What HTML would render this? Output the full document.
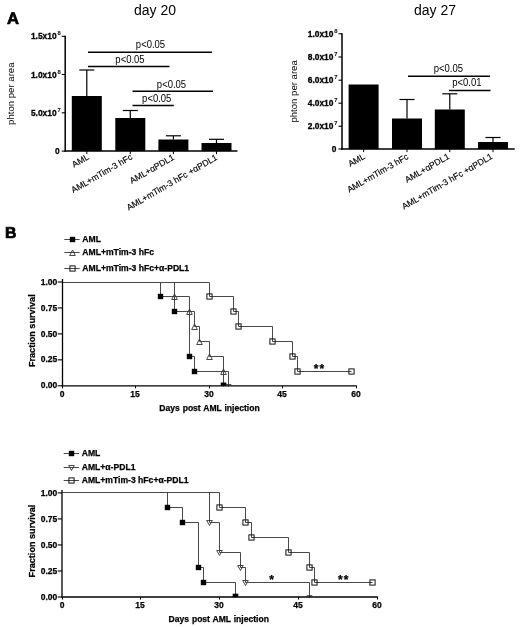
<!DOCTYPE html>
<html><head><meta charset="utf-8"><title>Figure</title>
<style>
html,body{margin:0;padding:0;background:#fff;}
svg{display:block;font-family:'Liberation Sans', sans-serif;}
</style></head>
<body>
<svg width="520" height="627" viewBox="0 0 520 627" font-family="'Liberation Sans', sans-serif" fill="#000">
<rect width="520" height="627" fill="#fff"/>
<text x="6.90" y="24.30" font-size="16.6" font-weight="bold" stroke="#000" stroke-width="0.7" text-anchor="start" text-rendering="geometricPrecision">A</text>
<text x="5.10" y="238.30" font-size="15.8" font-weight="bold" stroke="#000" stroke-width="0.7" text-anchor="start" text-rendering="geometricPrecision">B</text>
<text x="134.00" y="15.00" font-size="14" text-anchor="start">day 20</text>
<text x="414.00" y="15.00" font-size="14" text-anchor="start">day 27</text>
<line x1="65.20" y1="35.70" x2="65.20" y2="151.80" stroke="#000" stroke-width="1.5"/>
<line x1="64.50" y1="151.10" x2="237.50" y2="151.10" stroke="#000" stroke-width="1.5"/>
<line x1="61.70" y1="36.30" x2="65.20" y2="36.30" stroke="#000" stroke-width="1.1"/>
<text x="60.70" y="39.30" font-size="8.4" font-weight="bold" stroke="#000" stroke-width="0.3" text-anchor="end">1.5x10<tspan font-size="5.8" dy="-4" dx="0.9" fill="#222" stroke-width="0.1">8</tspan></text>
<line x1="61.70" y1="74.50" x2="65.20" y2="74.50" stroke="#000" stroke-width="1.1"/>
<text x="60.70" y="77.50" font-size="8.4" font-weight="bold" stroke="#000" stroke-width="0.3" text-anchor="end">1.0x10<tspan font-size="5.8" dy="-4" dx="0.9" fill="#222" stroke-width="0.1">8</tspan></text>
<line x1="61.70" y1="112.80" x2="65.20" y2="112.80" stroke="#000" stroke-width="1.1"/>
<text x="60.70" y="115.80" font-size="8.4" font-weight="bold" stroke="#000" stroke-width="0.3" text-anchor="end">5.0x10<tspan font-size="5.8" dy="-4" dx="0.9" fill="#222" stroke-width="0.1">7</tspan></text>
<line x1="61.70" y1="151.10" x2="65.20" y2="151.10" stroke="#000" stroke-width="1.1"/>
<text x="59.70" y="154.10" font-size="8.4" font-weight="bold" stroke="#000" stroke-width="0.25" text-anchor="end">0</text>
<rect x="71.80" y="96.00" width="30.00" height="55.10" fill="#000"/>
<line x1="86.80" y1="70.00" x2="86.80" y2="96.00" stroke="#000" stroke-width="1.2"/>
<line x1="79.30" y1="70.00" x2="94.30" y2="70.00" stroke="#000" stroke-width="1.2"/>
<line x1="86.80" y1="151.10" x2="86.80" y2="154.10" stroke="#000" stroke-width="1.0"/>
<text x="89.60" y="158.70" font-size="8.7" text-anchor="end" transform="rotate(-30 89.60 158.70)" stroke="#000" stroke-width="0.15">AML</text>
<rect x="115.30" y="118.00" width="30.00" height="33.10" fill="#000"/>
<line x1="130.30" y1="110.50" x2="130.30" y2="118.00" stroke="#000" stroke-width="1.2"/>
<line x1="122.80" y1="110.50" x2="137.80" y2="110.50" stroke="#000" stroke-width="1.2"/>
<line x1="130.30" y1="151.10" x2="130.30" y2="154.10" stroke="#000" stroke-width="1.0"/>
<text x="133.10" y="158.70" font-size="8.7" text-anchor="end" transform="rotate(-30 133.10 158.70)" stroke="#000" stroke-width="0.15">AML+mTim-3 hFc</text>
<rect x="158.40" y="139.50" width="30.00" height="11.60" fill="#000"/>
<line x1="173.40" y1="135.80" x2="173.40" y2="139.50" stroke="#000" stroke-width="1.2"/>
<line x1="165.90" y1="135.80" x2="180.90" y2="135.80" stroke="#000" stroke-width="1.2"/>
<line x1="173.40" y1="151.10" x2="173.40" y2="154.10" stroke="#000" stroke-width="1.0"/>
<text x="174.90" y="159.10" font-size="8.7" text-anchor="end" transform="rotate(-30 174.90 159.10)" stroke="#000" stroke-width="0.15">AML+αPDL1</text>
<rect x="201.50" y="143.00" width="30.00" height="8.10" fill="#000"/>
<line x1="216.50" y1="139.30" x2="216.50" y2="143.00" stroke="#000" stroke-width="1.2"/>
<line x1="209.00" y1="139.30" x2="224.00" y2="139.30" stroke="#000" stroke-width="1.2"/>
<line x1="216.50" y1="151.10" x2="216.50" y2="154.10" stroke="#000" stroke-width="1.0"/>
<text x="218.00" y="159.10" font-size="8.7" text-anchor="end" transform="rotate(-30 218.00 159.10)" stroke="#000" stroke-width="0.15">AML+mTim-3 hFc +αPDL1</text>
<text x="13.80" y="93.70" font-size="9.6" text-anchor="middle" transform="rotate(-90 13.80 93.70)">phton per area</text>
<line x1="88.00" y1="52.30" x2="212.00" y2="52.30" stroke="#000" stroke-width="1.4"/>
<text transform="translate(150.50 48.00) scale(0.95 1)" font-size="10" text-anchor="middle">p&lt;0.05</text>
<line x1="88.00" y1="66.50" x2="169.50" y2="66.50" stroke="#000" stroke-width="1.4"/>
<text transform="translate(130.00 62.50) scale(0.95 1)" font-size="10" text-anchor="middle">p&lt;0.05</text>
<line x1="132.50" y1="91.30" x2="213.00" y2="91.30" stroke="#000" stroke-width="1.4"/>
<text transform="translate(171.50 88.00) scale(0.95 1)" font-size="10" text-anchor="middle">p&lt;0.05</text>
<line x1="132.50" y1="105.50" x2="173.80" y2="105.50" stroke="#000" stroke-width="1.4"/>
<text transform="translate(156.75 102.00) scale(0.95 1)" font-size="10" text-anchor="middle">p&lt;0.05</text>
<line x1="342.00" y1="33.15" x2="342.00" y2="149.80" stroke="#000" stroke-width="1.5"/>
<line x1="341.30" y1="149.10" x2="514.70" y2="149.10" stroke="#000" stroke-width="1.5"/>
<line x1="338.50" y1="33.75" x2="342.00" y2="33.75" stroke="#000" stroke-width="1.1"/>
<text x="337.50" y="36.75" font-size="8.4" font-weight="bold" stroke="#000" stroke-width="0.3" text-anchor="end">1.0x10<tspan font-size="5.8" dy="-4" dx="0.9" fill="#222" stroke-width="0.1">8</tspan></text>
<line x1="338.50" y1="57.00" x2="342.00" y2="57.00" stroke="#000" stroke-width="1.1"/>
<text x="337.50" y="60.00" font-size="8.4" font-weight="bold" stroke="#000" stroke-width="0.3" text-anchor="end">8.0x10<tspan font-size="5.8" dy="-4" dx="0.9" fill="#222" stroke-width="0.1">7</tspan></text>
<line x1="338.50" y1="80.20" x2="342.00" y2="80.20" stroke="#000" stroke-width="1.1"/>
<text x="337.50" y="83.20" font-size="8.4" font-weight="bold" stroke="#000" stroke-width="0.3" text-anchor="end">6.0x10<tspan font-size="5.8" dy="-4" dx="0.9" fill="#222" stroke-width="0.1">7</tspan></text>
<line x1="338.50" y1="103.20" x2="342.00" y2="103.20" stroke="#000" stroke-width="1.1"/>
<text x="337.50" y="106.20" font-size="8.4" font-weight="bold" stroke="#000" stroke-width="0.3" text-anchor="end">4.0x10<tspan font-size="5.8" dy="-4" dx="0.9" fill="#222" stroke-width="0.1">7</tspan></text>
<line x1="338.50" y1="126.20" x2="342.00" y2="126.20" stroke="#000" stroke-width="1.1"/>
<text x="337.50" y="129.20" font-size="8.4" font-weight="bold" stroke="#000" stroke-width="0.3" text-anchor="end">2.0x10<tspan font-size="5.8" dy="-4" dx="0.9" fill="#222" stroke-width="0.1">7</tspan></text>
<line x1="338.50" y1="149.00" x2="342.00" y2="149.00" stroke="#000" stroke-width="1.1"/>
<text x="336.50" y="152.00" font-size="8.4" font-weight="bold" stroke="#000" stroke-width="0.25" text-anchor="end">0</text>
<rect x="348.60" y="84.50" width="30.00" height="64.60" fill="#000"/>
<line x1="363.60" y1="149.10" x2="363.60" y2="152.10" stroke="#000" stroke-width="1.0"/>
<text x="365.80" y="158.10" font-size="8.7" text-anchor="end" transform="rotate(-30 365.80 158.10)" stroke="#000" stroke-width="0.15">AML</text>
<rect x="392.00" y="118.50" width="30.00" height="30.60" fill="#000"/>
<line x1="407.00" y1="99.50" x2="407.00" y2="118.50" stroke="#000" stroke-width="1.2"/>
<line x1="399.50" y1="99.50" x2="414.50" y2="99.50" stroke="#000" stroke-width="1.2"/>
<line x1="407.00" y1="149.10" x2="407.00" y2="152.10" stroke="#000" stroke-width="1.0"/>
<text x="409.00" y="158.40" font-size="8.7" text-anchor="end" transform="rotate(-30 409.00 158.40)" stroke="#000" stroke-width="0.15">AML+mTim-3 hFc</text>
<rect x="434.80" y="109.50" width="30.00" height="39.60" fill="#000"/>
<line x1="449.80" y1="93.80" x2="449.80" y2="109.50" stroke="#000" stroke-width="1.2"/>
<line x1="442.30" y1="93.80" x2="457.30" y2="93.80" stroke="#000" stroke-width="1.2"/>
<line x1="449.80" y1="149.10" x2="449.80" y2="152.10" stroke="#000" stroke-width="1.0"/>
<text x="450.10" y="158.10" font-size="8.7" text-anchor="end" transform="rotate(-30 450.10 158.10)" stroke="#000" stroke-width="0.15">AML+αPDL1</text>
<rect x="478.00" y="142.00" width="30.00" height="7.10" fill="#000"/>
<line x1="493.00" y1="137.50" x2="493.00" y2="142.00" stroke="#000" stroke-width="1.2"/>
<line x1="485.50" y1="137.50" x2="500.50" y2="137.50" stroke="#000" stroke-width="1.2"/>
<line x1="493.00" y1="149.10" x2="493.00" y2="152.10" stroke="#000" stroke-width="1.0"/>
<text x="493.30" y="158.10" font-size="8.7" text-anchor="end" transform="rotate(-30 493.30 158.10)" stroke="#000" stroke-width="0.15">AML+mTim-3 hFc +αPDL1</text>
<text x="297.00" y="91.42" font-size="9.6" text-anchor="middle" transform="rotate(-90 297.00 91.42)">phton per area</text>
<line x1="408.00" y1="76.30" x2="490.00" y2="76.30" stroke="#000" stroke-width="1.4"/>
<text transform="translate(448.38 72.00) scale(0.95 1)" font-size="10" text-anchor="middle">p&lt;0.05</text>
<line x1="449.00" y1="90.50" x2="490.50" y2="90.50" stroke="#000" stroke-width="1.4"/>
<text transform="translate(466.88 85.80) scale(0.95 1)" font-size="10" text-anchor="middle">p&lt;0.01</text>
<line x1="64.30" y1="239.50" x2="79.60" y2="239.50" stroke="#333" stroke-width="0.9"/>
<rect x="69.80" y="236.80" width="5.4" height="5.4" fill="#000"/>
<text x="82.30" y="242.30" font-size="8.6" font-weight="bold" stroke="#000" stroke-width="0.25" text-anchor="start">AML</text>
<line x1="64.30" y1="252.50" x2="79.60" y2="252.50" stroke="#333" stroke-width="0.9"/>
<path d="M69.70 255.50 L75.30 255.50 L72.50 250.00 Z" fill="none" stroke="#333" stroke-width="0.9"/>
<text x="82.30" y="255.10" font-size="8.6" font-weight="bold" stroke="#000" stroke-width="0.25" text-anchor="start">AML+mTim-3 hFc</text>
<line x1="64.30" y1="268.50" x2="79.60" y2="268.50" stroke="#333" stroke-width="0.9"/>
<rect x="69.90" y="265.90" width="5.2" height="5.2" fill="none" stroke="#111" stroke-width="1"/>
<text x="82.30" y="270.50" font-size="8.6" font-weight="bold" stroke="#000" stroke-width="0.25" text-anchor="start">AML+mTim-3 hFc+α-PDL1</text>
<polyline fill="none" stroke="#333" stroke-width="0.9" points="160.50,282.50 160.50,296.50 174.50,296.50 174.50,311.50 189.50,311.50 189.50,356.50 194.50,356.50 194.50,371.50 223.50,371.50 223.50,386.50"/>
<rect x="157.80" y="293.80" width="5.4" height="5.4" fill="#000"/>
<rect x="171.80" y="308.80" width="5.4" height="5.4" fill="#000"/>
<rect x="186.80" y="353.80" width="5.4" height="5.4" fill="#000"/>
<rect x="191.80" y="368.80" width="5.4" height="5.4" fill="#000"/>
<rect x="220.70" y="382.50" width="5.6" height="3.3" fill="#000"/>
<polyline fill="none" stroke="#333" stroke-width="0.9" points="174.50,282.50 174.50,296.50 189.50,296.50 189.50,311.50 194.50,311.50 194.50,326.50 199.50,326.50 199.50,341.50 209.50,341.50 209.50,356.50 223.50,356.50 223.50,371.50 228.50,371.50 228.50,386.50"/>
<path d="M171.70 299.50 L177.30 299.50 L174.50 294.00 Z" fill="none" stroke="#333" stroke-width="0.9"/>
<path d="M186.70 314.50 L192.30 314.50 L189.50 309.00 Z" fill="none" stroke="#333" stroke-width="0.9"/>
<path d="M191.70 329.50 L197.30 329.50 L194.50 324.00 Z" fill="none" stroke="#333" stroke-width="0.9"/>
<path d="M196.70 344.50 L202.30 344.50 L199.50 339.00 Z" fill="none" stroke="#333" stroke-width="0.9"/>
<path d="M206.70 359.50 L212.30 359.50 L209.50 354.00 Z" fill="none" stroke="#333" stroke-width="0.9"/>
<path d="M220.70 374.50 L226.30 374.50 L223.50 369.00 Z" fill="none" stroke="#333" stroke-width="0.9"/>
<line x1="225.70" y1="384.50" x2="231.30" y2="384.50" stroke="#333" stroke-width="0.9"/>
<polyline fill="none" stroke="#333" stroke-width="0.9" points="62.50,282.50 209.50,282.50 209.50,296.50 233.50,296.50 233.50,311.50 238.50,311.50 238.50,326.50 272.50,326.50 272.50,341.50 292.50,341.50 292.50,356.50 297.50,356.50 297.50,371.50 351.50,371.50"/>
<rect x="206.90" y="293.90" width="5.2" height="5.2" fill="none" stroke="#111" stroke-width="1"/>
<rect x="230.90" y="308.90" width="5.2" height="5.2" fill="none" stroke="#111" stroke-width="1"/>
<rect x="235.90" y="323.90" width="5.2" height="5.2" fill="none" stroke="#111" stroke-width="1"/>
<rect x="269.90" y="338.90" width="5.2" height="5.2" fill="none" stroke="#111" stroke-width="1"/>
<rect x="289.90" y="353.90" width="5.2" height="5.2" fill="none" stroke="#111" stroke-width="1"/>
<rect x="294.90" y="368.90" width="5.2" height="5.2" fill="none" stroke="#111" stroke-width="1"/>
<rect x="348.90" y="368.90" width="5.2" height="5.2" fill="none" stroke="#111" stroke-width="1"/>
<line x1="62.50" y1="279.00" x2="62.50" y2="386.50" stroke="#000" stroke-width="1.3"/>
<line x1="61.80" y1="385.80" x2="356.80" y2="385.80" stroke="#000" stroke-width="1.3"/>
<line x1="57.70" y1="282.00" x2="62.00" y2="282.00" stroke="#000" stroke-width="1.1"/>
<text x="57.30" y="284.60" font-size="8.5" font-weight="bold" stroke="#000" stroke-width="0.25" text-anchor="end">1.00</text>
<line x1="57.70" y1="307.95" x2="62.00" y2="307.95" stroke="#000" stroke-width="1.1"/>
<text x="57.30" y="310.55" font-size="8.5" font-weight="bold" stroke="#000" stroke-width="0.25" text-anchor="end">0.75</text>
<line x1="57.70" y1="333.90" x2="62.00" y2="333.90" stroke="#000" stroke-width="1.1"/>
<text x="57.30" y="336.50" font-size="8.5" font-weight="bold" stroke="#000" stroke-width="0.25" text-anchor="end">0.50</text>
<line x1="57.70" y1="359.85" x2="62.00" y2="359.85" stroke="#000" stroke-width="1.1"/>
<text x="57.30" y="362.45" font-size="8.5" font-weight="bold" stroke="#000" stroke-width="0.25" text-anchor="end">0.25</text>
<line x1="57.70" y1="385.80" x2="62.00" y2="385.80" stroke="#000" stroke-width="1.1"/>
<text x="57.30" y="388.40" font-size="8.5" font-weight="bold" stroke="#000" stroke-width="0.25" text-anchor="end">0.00</text>
<line x1="62.50" y1="385.80" x2="62.50" y2="388.40" stroke="#000" stroke-width="1.0"/>
<text x="62.00" y="397.20" font-size="8.5" font-weight="bold" stroke="#000" stroke-width="0.25" text-anchor="middle">0</text>
<line x1="135.50" y1="385.80" x2="135.50" y2="388.40" stroke="#000" stroke-width="1.0"/>
<text x="135.00" y="397.20" font-size="8.5" font-weight="bold" stroke="#000" stroke-width="0.25" text-anchor="middle">15</text>
<line x1="209.50" y1="385.80" x2="209.50" y2="388.40" stroke="#000" stroke-width="1.0"/>
<text x="209.00" y="397.20" font-size="8.5" font-weight="bold" stroke="#000" stroke-width="0.25" text-anchor="middle">30</text>
<line x1="282.50" y1="385.80" x2="282.50" y2="388.40" stroke="#000" stroke-width="1.0"/>
<text x="282.00" y="397.20" font-size="8.5" font-weight="bold" stroke="#000" stroke-width="0.25" text-anchor="middle">45</text>
<line x1="356.50" y1="385.80" x2="356.50" y2="388.40" stroke="#000" stroke-width="1.0"/>
<text x="356.00" y="397.20" font-size="8.5" font-weight="bold" stroke="#000" stroke-width="0.25" text-anchor="middle">60</text>
<text x="209.50" y="411.00" font-size="8.55" font-weight="bold" stroke="#000" stroke-width="0.25" text-anchor="middle" word-spacing="0.5">Days post AML injection</text>
<text x="34.60" y="330.70" font-size="9.1" font-weight="bold" stroke="#000" stroke-width="0.25" text-anchor="middle" transform="rotate(-90 34.60 330.70)">Fraction survival</text>
<text x="319.50" y="373.40" font-size="12" font-weight="bold" stroke="#000" stroke-width="0.25" text-anchor="middle" letter-spacing="1">**</text>
<line x1="63.70" y1="453.50" x2="79.00" y2="453.50" stroke="#333" stroke-width="0.9"/>
<rect x="68.80" y="450.80" width="5.4" height="5.4" fill="#000"/>
<text x="81.70" y="456.00" font-size="8.6" font-weight="bold" stroke="#000" stroke-width="0.25" text-anchor="start">AML</text>
<line x1="63.70" y1="467.50" x2="79.00" y2="467.50" stroke="#333" stroke-width="0.9"/>
<path d="M68.70 465.50 L74.30 465.50 L71.50 470.50 Z" fill="none" stroke="#333" stroke-width="0.9"/>
<text x="81.70" y="469.60" font-size="8.6" font-weight="bold" stroke="#000" stroke-width="0.25" text-anchor="start">AML+α-PDL1</text>
<line x1="63.70" y1="480.50" x2="79.00" y2="480.50" stroke="#333" stroke-width="0.9"/>
<rect x="68.90" y="477.90" width="5.2" height="5.2" fill="none" stroke="#111" stroke-width="1"/>
<text x="81.70" y="482.50" font-size="8.6" font-weight="bold" stroke="#000" stroke-width="0.25" text-anchor="start">AML+mTim-3 hFc+α-PDL1</text>
<polyline fill="none" stroke="#333" stroke-width="0.9" points="167.50,492.50 167.50,507.50 182.50,507.50 182.50,522.50 198.50,522.50 198.50,567.50 203.50,567.50 203.50,582.50 235.50,582.50 235.50,597.50"/>
<rect x="164.80" y="504.80" width="5.4" height="5.4" fill="#000"/>
<rect x="179.80" y="519.80" width="5.4" height="5.4" fill="#000"/>
<rect x="195.80" y="564.80" width="5.4" height="5.4" fill="#000"/>
<rect x="200.80" y="579.80" width="5.4" height="5.4" fill="#000"/>
<rect x="232.70" y="593.70" width="5.6" height="3.3" fill="#000"/>
<polyline fill="none" stroke="#333" stroke-width="0.9" points="209.50,492.50 209.50,522.50 219.50,522.50 219.50,552.50 240.50,552.50 240.50,567.50 245.50,567.50 245.50,582.50 309.50,582.50 309.50,597.50"/>
<path d="M206.70 520.50 L212.30 520.50 L209.50 525.50 Z" fill="none" stroke="#333" stroke-width="0.9"/>
<path d="M216.70 550.50 L222.30 550.50 L219.50 555.50 Z" fill="none" stroke="#333" stroke-width="0.9"/>
<path d="M237.70 565.50 L243.30 565.50 L240.50 570.50 Z" fill="none" stroke="#333" stroke-width="0.9"/>
<path d="M242.70 580.50 L248.30 580.50 L245.50 585.50 Z" fill="none" stroke="#333" stroke-width="0.9"/>
<line x1="306.70" y1="595.70" x2="312.30" y2="595.70" stroke="#333" stroke-width="0.9"/>
<polyline fill="none" stroke="#333" stroke-width="0.9" points="62.50,492.50 219.50,492.50 219.50,507.50 245.50,507.50 245.50,522.50 251.50,522.50 251.50,537.50 288.50,537.50 288.50,552.50 309.50,552.50 309.50,567.50 314.50,567.50 314.50,582.50 372.50,582.50"/>
<rect x="216.90" y="504.90" width="5.2" height="5.2" fill="none" stroke="#111" stroke-width="1"/>
<rect x="242.90" y="519.90" width="5.2" height="5.2" fill="none" stroke="#111" stroke-width="1"/>
<rect x="248.90" y="534.90" width="5.2" height="5.2" fill="none" stroke="#111" stroke-width="1"/>
<rect x="285.90" y="549.90" width="5.2" height="5.2" fill="none" stroke="#111" stroke-width="1"/>
<rect x="306.90" y="564.90" width="5.2" height="5.2" fill="none" stroke="#111" stroke-width="1"/>
<rect x="311.90" y="579.90" width="5.2" height="5.2" fill="none" stroke="#111" stroke-width="1"/>
<rect x="369.90" y="579.90" width="5.2" height="5.2" fill="none" stroke="#111" stroke-width="1"/>
<line x1="62.00" y1="489.90" x2="62.00" y2="597.70" stroke="#000" stroke-width="1.3"/>
<line x1="61.80" y1="597.00" x2="377.90" y2="597.00" stroke="#000" stroke-width="1.3"/>
<line x1="57.70" y1="492.90" x2="62.00" y2="492.90" stroke="#000" stroke-width="1.1"/>
<text x="57.30" y="495.50" font-size="8.5" font-weight="bold" stroke="#000" stroke-width="0.25" text-anchor="end">1.00</text>
<line x1="57.70" y1="518.92" x2="62.00" y2="518.92" stroke="#000" stroke-width="1.1"/>
<text x="57.30" y="521.52" font-size="8.5" font-weight="bold" stroke="#000" stroke-width="0.25" text-anchor="end">0.75</text>
<line x1="57.70" y1="544.95" x2="62.00" y2="544.95" stroke="#000" stroke-width="1.1"/>
<text x="57.30" y="547.55" font-size="8.5" font-weight="bold" stroke="#000" stroke-width="0.25" text-anchor="end">0.50</text>
<line x1="57.70" y1="570.98" x2="62.00" y2="570.98" stroke="#000" stroke-width="1.1"/>
<text x="57.30" y="573.58" font-size="8.5" font-weight="bold" stroke="#000" stroke-width="0.25" text-anchor="end">0.25</text>
<line x1="57.70" y1="597.00" x2="62.00" y2="597.00" stroke="#000" stroke-width="1.1"/>
<text x="57.30" y="599.60" font-size="8.5" font-weight="bold" stroke="#000" stroke-width="0.25" text-anchor="end">0.00</text>
<line x1="62.50" y1="597.00" x2="62.50" y2="599.60" stroke="#000" stroke-width="1.0"/>
<text x="62.00" y="608.40" font-size="8.5" font-weight="bold" stroke="#000" stroke-width="0.25" text-anchor="middle">0</text>
<line x1="140.50" y1="597.00" x2="140.50" y2="599.60" stroke="#000" stroke-width="1.0"/>
<text x="140.00" y="608.40" font-size="8.5" font-weight="bold" stroke="#000" stroke-width="0.25" text-anchor="middle">15</text>
<line x1="219.50" y1="597.00" x2="219.50" y2="599.60" stroke="#000" stroke-width="1.0"/>
<text x="219.00" y="608.40" font-size="8.5" font-weight="bold" stroke="#000" stroke-width="0.25" text-anchor="middle">30</text>
<line x1="298.50" y1="597.00" x2="298.50" y2="599.60" stroke="#000" stroke-width="1.0"/>
<text x="298.00" y="608.40" font-size="8.5" font-weight="bold" stroke="#000" stroke-width="0.25" text-anchor="middle">45</text>
<line x1="377.50" y1="597.00" x2="377.50" y2="599.60" stroke="#000" stroke-width="1.0"/>
<text x="377.00" y="608.40" font-size="8.5" font-weight="bold" stroke="#000" stroke-width="0.25" text-anchor="middle">60</text>
<text x="218.75" y="621.50" font-size="8.55" font-weight="bold" stroke="#000" stroke-width="0.25" text-anchor="middle" word-spacing="0.5">Days post AML injection</text>
<text x="34.60" y="541.00" font-size="9.1" font-weight="bold" stroke="#000" stroke-width="0.25" text-anchor="middle" transform="rotate(-90 34.60 541.00)">Fraction survival</text>
<text x="272.20" y="584.00" font-size="12" font-weight="bold" stroke="#000" stroke-width="0.25" text-anchor="middle" letter-spacing="1">*</text>
<text x="343.70" y="584.00" font-size="12" font-weight="bold" stroke="#000" stroke-width="0.25" text-anchor="middle" letter-spacing="1">**</text>
</svg>
</body></html>
